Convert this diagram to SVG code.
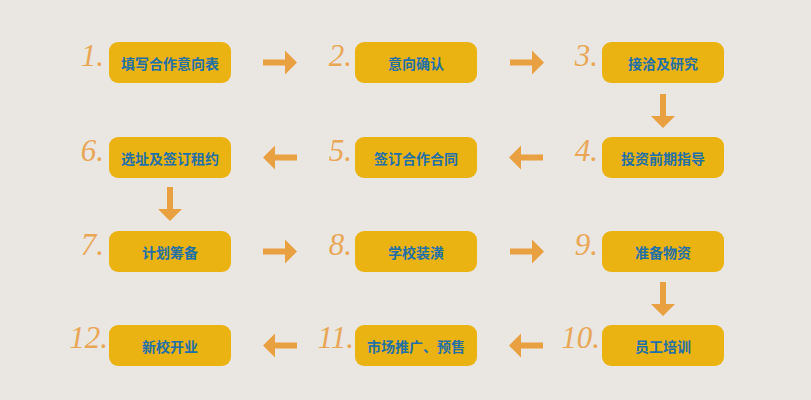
<svg xmlns="http://www.w3.org/2000/svg" xmlns:xlink="http://www.w3.org/1999/xlink" width="811" height="400" viewBox="0 0 811 400">
<style>
.box{fill:#EBB312;}
.lbl{font-family:"Noto Sans CJK SC","Noto Sans",sans-serif;font-weight:bold;font-size:14px;fill:#2270A8;text-anchor:middle;dominant-baseline:central;}
.num{font-family:"Liberation Serif","DejaVu Serif",serif;font-style:italic;font-size:31px;fill:#E9A655;text-anchor:end;}
.arr{fill:#E9A040;}
</style>
<defs>
<path id="ar" d="M0,-3 H22 V-12 L34,0 L22,12 V3 H0 Z"/>
</defs>
<rect width="811" height="400" fill="#EAE6E1"/>
<g id="connectors" class="arr">
<use xlink:href="#ar" transform="translate(263,62.5)"/>
<use xlink:href="#ar" transform="translate(510,62.5)"/>
<use xlink:href="#ar" transform="translate(663,94) rotate(90)"/>
<use xlink:href="#ar" transform="translate(543,157.5) rotate(180)"/>
<use xlink:href="#ar" transform="translate(297,157.5) rotate(180)"/>
<use xlink:href="#ar" transform="translate(170,187) rotate(90)"/>
<use xlink:href="#ar" transform="translate(263,251.5)"/>
<use xlink:href="#ar" transform="translate(510,251.5)"/>
<use xlink:href="#ar" transform="translate(663,282) rotate(90)"/>
<use xlink:href="#ar" transform="translate(543,345.5) rotate(180)"/>
<use xlink:href="#ar" transform="translate(297,345.5) rotate(180)"/>
</g>
<g id="n1"><text class="num" x="104" y="66">1.</text><rect class="box" x="109" y="42" width="122" height="41" rx="9"/><text class="lbl" x="170" y="62.5">填写合作意向表</text></g>
<g id="n2"><text class="num" x="352" y="66">2.</text><rect class="box" x="355" y="42" width="122" height="41" rx="9"/><text class="lbl" x="416" y="62.5">意向确认</text></g>
<g id="n3"><text class="num" x="598" y="66">3.</text><rect class="box" x="602" y="42" width="122" height="41" rx="9"/><text class="lbl" x="663" y="62.5">接洽及研究</text></g>
<g id="n4"><text class="num" x="598" y="161">4.</text><rect class="box" x="602" y="137" width="122" height="41" rx="9"/><text class="lbl" x="663" y="157.5">投资前期指导</text></g>
<g id="n5"><text class="num" x="352" y="161">5.</text><rect class="box" x="355" y="137" width="122" height="41" rx="9"/><text class="lbl" x="416" y="157.5">签订合作合同</text></g>
<g id="n6"><text class="num" x="104" y="161">6.</text><rect class="box" x="109" y="137" width="122" height="41" rx="9"/><text class="lbl" x="170" y="157.5">选址及签订租约</text></g>
<g id="n7"><text class="num" x="104" y="255">7.</text><rect class="box" x="109" y="231" width="122" height="41" rx="9"/><text class="lbl" x="170" y="251.5">计划筹备</text></g>
<g id="n8"><text class="num" x="352" y="255">8.</text><rect class="box" x="355" y="231" width="122" height="41" rx="9"/><text class="lbl" x="416" y="251.5">学校装潢</text></g>
<g id="n9"><text class="num" x="598" y="255">9.</text><rect class="box" x="602" y="231" width="122" height="41" rx="9"/><text class="lbl" x="663" y="251.5">准备物资</text></g>
<g id="n10"><text class="num" x="600" y="348">10.</text><rect class="box" x="602" y="325" width="122" height="41" rx="9"/><text class="lbl" x="663" y="345.5">员工培训</text></g>
<g id="n11"><text class="num" x="354" y="348">11.</text><rect class="box" x="355" y="325" width="122" height="41" rx="9"/><text class="lbl" x="416" y="345.5">市场推广、预售</text></g>
<g id="n12"><text class="num" x="108" y="348">12.</text><rect class="box" x="109" y="325" width="122" height="41" rx="9"/><text class="lbl" x="170" y="345.5">新校开业</text></g>
</svg>
